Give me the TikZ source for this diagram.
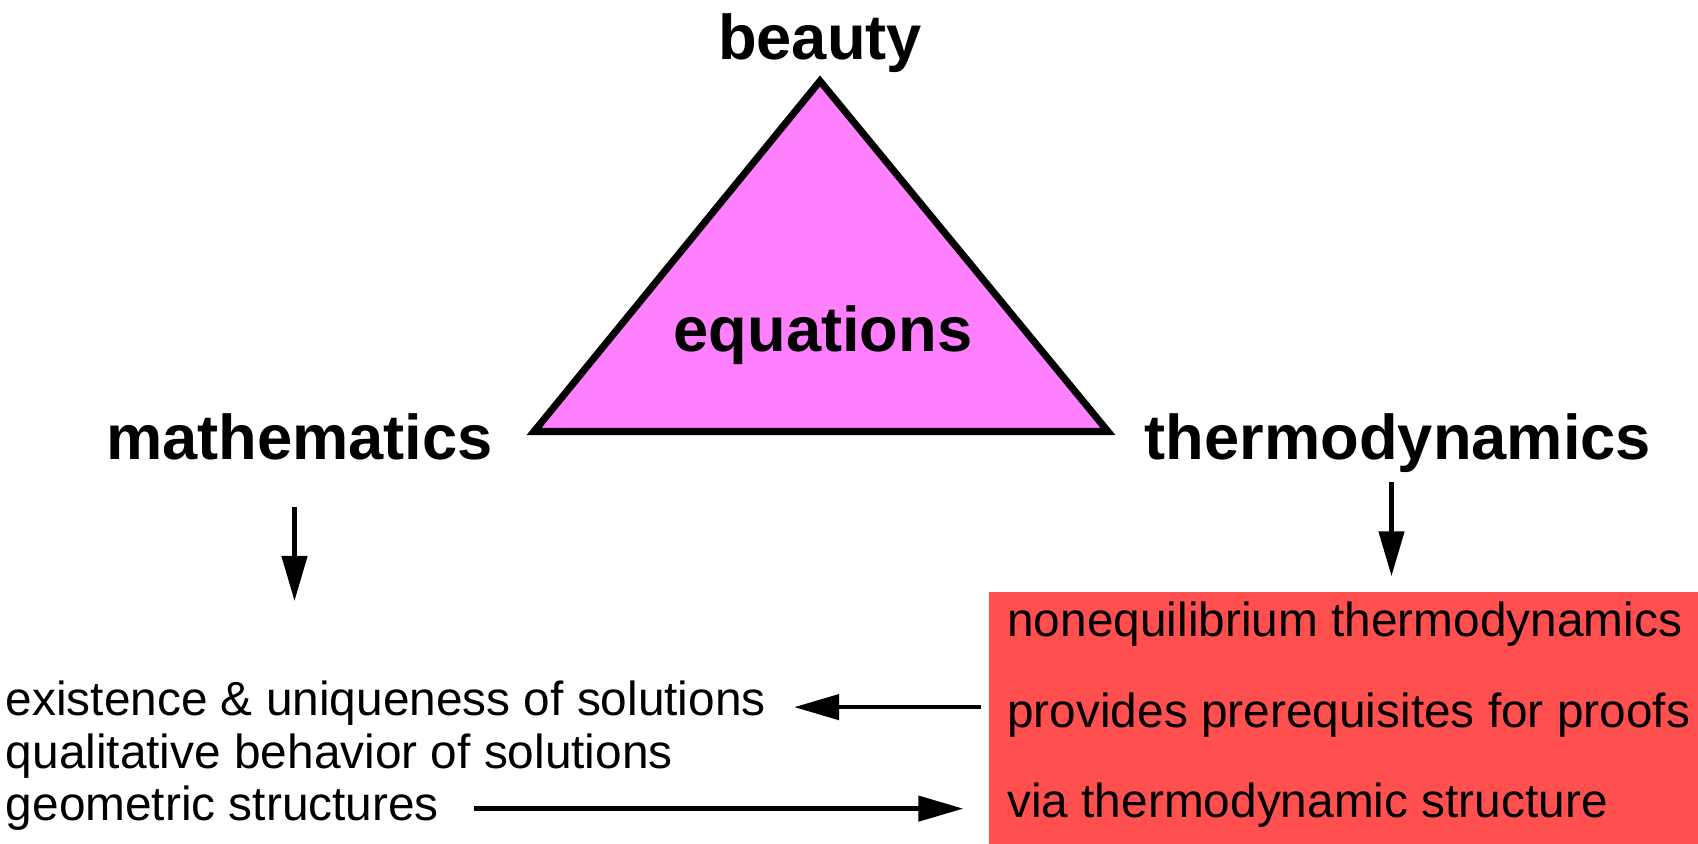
\documentclass[tikz,border=0pt]{standalone}
\usepackage{fontspec}
\setmainfont{Liberation Sans}
\usepackage{tikz}
\usetikzlibrary{arrows.meta,positioning,calc}
\definecolor{trifill}{HTML}{FF80FF}
\definecolor{boxred}{HTML}{FF4F4F}

\begin{document}
\begin{tikzpicture}[
    corner/.style={
        inner sep=0pt, anchor=base,
        font=\fontsize{36}{43}\selectfont\bfseries
    },
    plain/.style={
        inner sep=0pt, anchor=base west,
        font=\fontsize{27.2}{32}\selectfont
    },
    redbox/.style={
        rectangle, fill=boxred, inner sep=0pt,
        minimum width=14.18cm, minimum height=5.04cm
    },
    triangle/.style={draw=black, fill=trifill, line width=4pt, line join=miter},
    arrow/.style={-{Triangle[length=0.9cm, width=0.5cm]}, line width=2.6pt},
]
\useasboundingbox (0,0) rectangle (33.96,16.88);

% Trójkąt
\draw[triangle] (16.40,15.26) -- (10.68,8.25) -- (22.16,8.25) -- cycle;

% Wierzchołki
\node[corner] (beauty) at (16.40,15.68) {beauty};
\node[corner] (equations) at (16.46,9.84) {equations};
\node[corner] (math) at (5.99,7.68) {mathematics};
\node[corner] (thermo) at (27.96,7.68) {thermodynamics};

% Lewa kolumna
\node[plain] (exist) at (0.11,2.56) {existence \& uniqueness of solutions};
\node[plain] (qual) at (0.11,1.50) {qualitative behavior of solutions};
\node[plain] (geom) at (0.11,0.46) {geometric structures};

% Czerwone pole
\node[redbox, anchor=south east] (box) at (33.96,0) {};
\node[plain] (noneq) at (20.14,4.14) {nonequilibrium thermodynamics};
\node[plain] (prov) at (20.14,2.32) {provides prerequisites for proofs};
\node[plain] (via) at (20.14,0.52) {via thermodynamic structure};

% Strzałki
\coordinate (mathend) at (5.89,4.86);
\draw[arrow, shorten <=0.92cm] (math.south -| mathend) -- (mathend);
\draw[arrow, shorten <=0.17cm, shorten >=0.3cm] ([xshift=-1.3mm]thermo.south) -- ([xshift=-1.3mm]thermo.south |- box.north);
\draw[arrow, shorten <=0.14cm, shorten >=0.56cm] ([yshift=-0.7mm]box.west |- exist.east) -- ([yshift=-0.7mm]exist.east);
\draw[arrow, shorten <=0.7cm, shorten >=0.5cm] (geom.east) -- (geom.east -| box.west);

\end{tikzpicture}
\end{document}
